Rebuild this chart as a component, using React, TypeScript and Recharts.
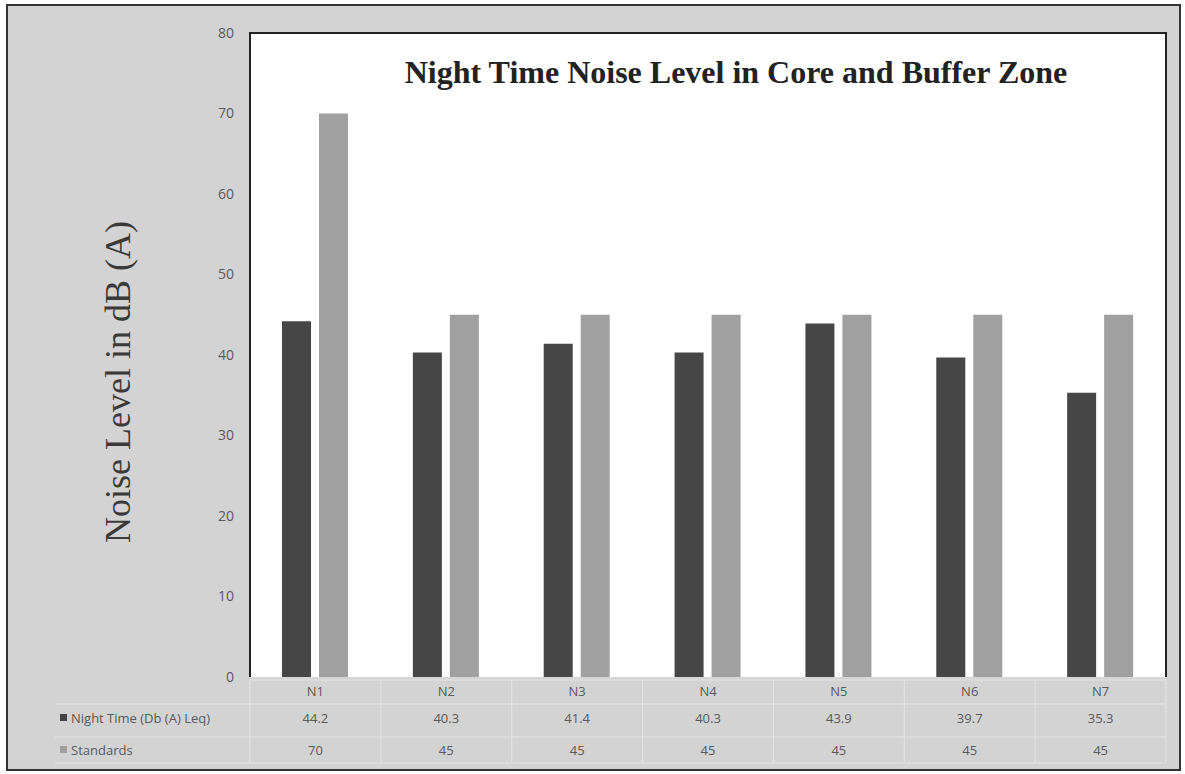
import React from 'react';
import { BarChart, Bar, XAxis, YAxis, CartesianGrid, Customized } from 'recharts';

const categories = ['N1', 'N2', 'N3', 'N4', 'N5', 'N6', 'N7'];
const nightTime = [44.2, 40.3, 41.4, 40.3, 43.9, 39.7, 35.3];
const standards = [70, 45, 45, 45, 45, 45, 45];
const yTicks = [0, 10, 20, 30, 40, 50, 60, 70, 80];
const seriesNames = ['Night Time (Db (A) Leq)', 'Standards'];

const data = categories.map((name, i) => ({
  name,
  night: nightTime[i],
  standard: standards[i],
}));

const W = 1185;
const H = 774;
const PLOT_LEFT = 250;
const PLOT_RIGHT = 1166;
const PLOT_TOP = 33;
const PLOT_BOTTOM = 677;
const DARK = '#464646';
const LIGHT = '#a0a0a0';
const BG = '#d3d3d3';
const TEXT = '#5a5a5a';
const TABLE_LINE = '#e4e4e4';
const ROW1_Y = 723;
const ROW2_Y = 755;

// one table column per category, drawn as the x-axis tick
const TableTick = (props: any) => {
  const { x, index } = props;
  const colW = (PLOT_RIGHT - PLOT_LEFT) / categories.length;
  const left = x - colW / 2;
  const style = { fontFamily: 'Open Sans, sans-serif', fontSize: 13, fill: TEXT };
  return (
    <g>
      <line x1={left + colW} y1={PLOT_BOTTOM + 3} x2={left + colW} y2={762} stroke={TABLE_LINE} />
      {index === 0 && <line x1={left} y1={PLOT_BOTTOM + 3} x2={left} y2={762} stroke={TABLE_LINE} />}
      <text x={x} y={696} textAnchor="middle" {...style}>{categories[index]}</text>
      <text x={x} y={ROW1_Y} textAnchor="middle" {...style}>{nightTime[index]}</text>
      <text x={x} y={ROW2_Y} textAnchor="middle" {...style}>{standards[index]}</text>
    </g>
  );
};

const TableFrame = () => {
  const style = { fontFamily: 'Open Sans, sans-serif', fontSize: 13, fill: TEXT };
  return (
    <g>
      <line x1={PLOT_LEFT} y1={PLOT_BOTTOM + 3} x2={PLOT_RIGHT} y2={PLOT_BOTTOM + 3} stroke={TABLE_LINE} />
      <line x1={55} y1={704} x2={PLOT_RIGHT} y2={704} stroke={TABLE_LINE} />
      <line x1={55} y1={737} x2={PLOT_RIGHT} y2={737} stroke={TABLE_LINE} />
      <line x1={55} y1={763} x2={PLOT_RIGHT} y2={763} stroke={TABLE_LINE} />
      <rect x={60} y={ROW1_Y - 9} width={7} height={7} fill={DARK} />
      <text x={71} y={ROW1_Y} {...style}>{seriesNames[0]}</text>
      <rect x={60} y={ROW2_Y - 9} width={7} height={7} fill={LIGHT} />
      <text x={71} y={ROW2_Y} {...style}>{seriesNames[1]}</text>
      <polyline
        points={`${PLOT_LEFT},${PLOT_BOTTOM} ${PLOT_LEFT},${PLOT_TOP} ${PLOT_RIGHT},${PLOT_TOP} ${PLOT_RIGHT},${PLOT_BOTTOM}`}
        fill="none" stroke="#222" strokeWidth={2} />
      <text x={736} y={83} textAnchor="middle"
        style={{ fontFamily: 'Liberation Serif, Times New Roman, serif', fontSize: 32, fontWeight: 'bold', fill: '#222' }}>
        Night Time Noise Level in Core and Buffer Zone
      </text>
      <text x={0} y={0} textAnchor="middle" transform="translate(130 382) rotate(-90)"
        style={{ fontFamily: 'Liberation Serif, Times New Roman, serif', fontSize: 36, fill: '#3a3a3a' }}>
        Noise Level in dB (A)
      </text>
    </g>
  );
};

const PlotBackground = () => (
  <rect x={PLOT_LEFT} y={PLOT_TOP} width={PLOT_RIGHT - PLOT_LEFT} height={PLOT_BOTTOM - PLOT_TOP} fill="#fff" />
);

const App: React.FC = () => {
  return (
    <div style={{ position: 'absolute', left: 0, top: 0, width: W, height: H, background: '#fff' }}>
      <div style={{
        position: 'absolute', left: 6, top: 4, width: W - 10, height: H - 7,
        background: BG, border: '2px solid #333', boxSizing: 'border-box',
      }} />
      <div style={{ position: 'absolute', left: 0, top: 0 }}>
        <BarChart
          width={W}
          height={H}
          data={data}
          margin={{ top: PLOT_TOP, right: W - PLOT_RIGHT, bottom: 0, left: PLOT_LEFT - 60 }}
          barSize={29}
          barGap={8}
        >
          <Customized component={PlotBackground} />
          <CartesianGrid vertical={false} stroke="#dedede" />
          <YAxis
            width={60}
            domain={[0, 80]}
            ticks={yTicks}
            axisLine={false}
            tickLine={false}
            tickSize={0}
            tickMargin={16}
            tick={{ fill: TEXT, fontSize: 14, fontFamily: 'Open Sans, sans-serif' }}
          />
          <XAxis
            dataKey="name"
            axisLine={false}
            tickLine={false}
            tickSize={0}
            height={H - PLOT_BOTTOM}
            interval={0}
            tick={<TableTick />}
          />
          <Bar dataKey="night" fill={DARK} isAnimationActive={false} />
          <Bar dataKey="standard" fill={LIGHT} isAnimationActive={false} />
          <Customized component={TableFrame} />
        </BarChart>
      </div>
    </div>
  );
};

export default App;
